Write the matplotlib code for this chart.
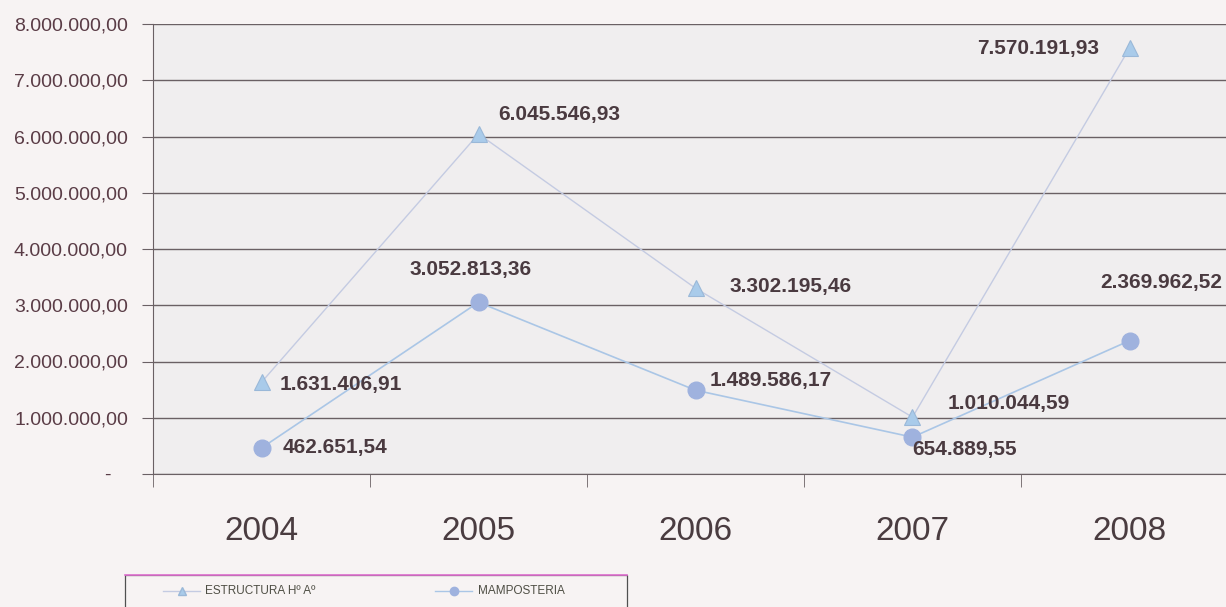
import matplotlib
matplotlib.use("Agg")
import matplotlib.pyplot as plt
from matplotlib.ticker import FuncFormatter, FixedLocator
from matplotlib.lines import Line2D
from matplotlib.patches import Rectangle

years = ["2004", "2005", "2006", "2007", "2008"]
estructura = [1631406.91, 6045546.93, 3302195.46, 1010044.59, 7570191.93]
mamposteria = [462651.54, 3052813.36, 1489586.17, 654889.55, 2369962.52]
series_names = ["ESTRUCTURA H\u00ba A\u00ba", "MAMPOSTERIA"]
y_ticks = [0, 1e6, 2e6, 3e6, 4e6, 5e6, 6e6, 7e6, 8e6]

plt.rcParams["font.family"] = ["Liberation Sans", "DejaVu Sans"]

def fmt_es(v):
    s = f"{v:,.2f}"
    return s.replace(",", "X").replace(".", ",").replace("X", ".")

W, H = 1226, 607
fig = plt.figure(figsize=(W / 100, H / 100), dpi=100, facecolor="#f7f3f3")
left, right, top, bottom = 153, 1238, 24, 474
ax = fig.add_axes([left / W, 1 - bottom / H, (right - left) / W, (bottom - top) / H])
ax.set_facecolor("#f0eeef")

tri_line, tri_face, tri_edge = "#c4cbe2", "#a9cbea", "#9ab8d8"
cir_line, cir_face = "#aac6e6", "#9fb2de"

x = list(range(len(years)))
ax.plot(x, estructura, color=tri_line, lw=1.0, marker="^", ms=12,
        mfc=tri_face, mec=tri_edge, mew=0.8, zorder=3)
ax.plot(x, mamposteria, color=cir_line, lw=1.2, marker="o", ms=12,
        mfc=cir_face, mec=cir_face, zorder=3)

ax.set_xlim(-0.5, 4.5)
ax.set_ylim(0, 8e6)
ax.yaxis.set_major_locator(FixedLocator(y_ticks))
ax.yaxis.set_major_formatter(FuncFormatter(lambda v, p: "-   " if v == 0 else fmt_es(v)))
ax.grid(axis="y", color="#6a6064", lw=1.0)
ax.set_axisbelow(True)
for s in ["top", "right"]:
    ax.spines[s].set_visible(False)
ax.spines["left"].set_color("#6a6064")
ax.spines["bottom"].set_color("#6a6064")
ax.tick_params(axis="y", length=8, color="#6a6064", labelsize=14,
               labelcolor="#5a3c46", pad=10)
ax.set_xticks(x)
ax.set_xticklabels(years)
ax.set_xticks([-0.5, 0.5, 1.5, 2.5, 3.5], minor=True)
ax.tick_params(axis="x", which="major", length=0, labelsize=24,
               labelcolor="#4a3c40", pad=30)
ax.tick_params(axis="x", which="minor", length=9, color="#6a6064")

# label offsets in pixels (dx, dy, ha)
off_e = [(18, -2, "left"), (20, 19, "left"), (34, 2, "left"), (35, 14, "left"), (-30, 0, "right")]
off_m = [(21, 0, "left"), (-8, 33, "center"), (14, 10, "left"), (0, -12, "left"), (32, 58, "center")]
for i in x:
    dx, dy, ha = off_e[i]
    ax.annotate(fmt_es(estructura[i]), (i, estructura[i]), xytext=(dx, dy),
                textcoords="offset pixels", ha=ha, va="center", fontsize=15,
                fontweight="bold", color="#4a3a40", zorder=4)
    dx, dy, ha = off_m[i]
    ax.annotate(fmt_es(mamposteria[i]), (i, mamposteria[i]), xytext=(dx, dy),
                textcoords="offset pixels", ha=ha, va="center", fontsize=15,
                fontweight="bold", color="#4a3a40", zorder=4)

# legend box (partly below the figure edge, as in the reference)
def fx(px):
    return px / W

def fy(py):
    return 1 - py / H

box = Rectangle((fx(125), fy(640)), fx(627) - fx(125), fy(575) - fy(640),
                transform=fig.transFigure, facecolor="#f7f3f3", edgecolor="#505050",
                lw=0.9, clip_on=False)
fig.add_artist(box)
fig.add_artist(Line2D([fx(125), fx(627)], [fy(575), fy(575)], transform=fig.transFigure,
                      color="#e070d0", lw=1.2))
leg_y = fy(591)
items = [(163, 200, "^", tri_line, tri_face, tri_edge, 205),
         (435, 472, "o", cir_line, cir_face, cir_face, 478)]
for (x0, x1, mk, lc, fc, ec, tx), name in zip(items, series_names):
    fig.add_artist(Line2D([fx(x0), fx(x1)], [leg_y, leg_y], transform=fig.transFigure,
                          color=lc, lw=1.0))
    fig.add_artist(Line2D([fx((x0 + x1) / 2)], [leg_y], transform=fig.transFigure,
                          marker=mk, ms=6, mfc=fc, mec=ec, lw=0))
    fig.text(fx(tx), leg_y, name, ha="left", va="center", fontsize=8.5, color="#4e4e44")

fig.savefig("out.png", dpi=100, facecolor=fig.get_facecolor())
